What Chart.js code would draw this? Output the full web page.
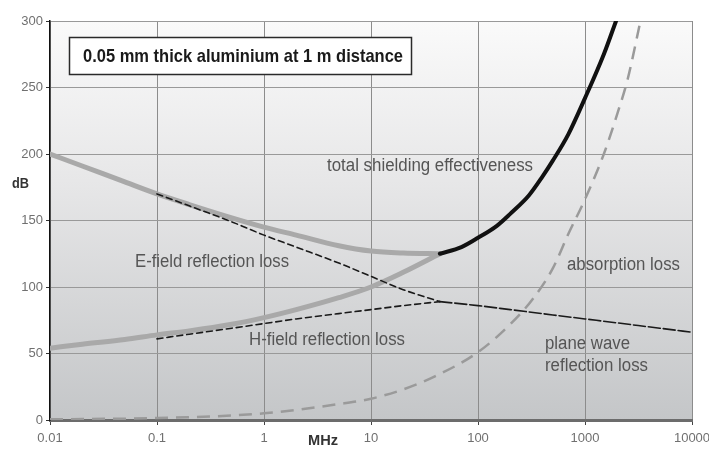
<!DOCTYPE html>
<html>
<head>
<meta charset="utf-8">
<script src="https://cdn.jsdelivr.net/npm/chart.js@4"></script>
<style>
html,body{margin:0;padding:0;background:#fff;}
#wrap{width:709px;height:453px;}
</style>
</head>
<body>
<div id="wrap"><canvas id="c" width="709" height="453"></canvas></div>
<script>
// ---- data ----
const xTickValues = [0.01, 0.1, 1, 10, 100, 1000, 10000];
const xTickLabels = ['0.01', '0.1', '1', '10', '100', '1000', '10000'];

const nearFreq = [0.01, 0.02, 0.05, 0.1, 0.2, 0.5, 1, 2, 5, 10, 20, 44];
const eTotalLoss = [200, 191, 179, 170, 162, 152, 145, 139, 131, 127, 125.5, 125];
const hTotalLoss = [54, 57, 60.5, 64, 67, 72, 77, 83, 92, 100, 111, 125];

const reflFreq = [0.1, 0.2, 0.5, 1, 2, 5, 10, 20, 44];
const eFieldLoss = [170, 161, 149, 139, 130, 118, 108, 98, 89];
const hFieldLoss = [61, 64.5, 69, 72.5, 76, 80, 83, 86, 89];

const planeFreq = [44, 100, 200, 500, 1000, 2000, 5000, 10000];
const planeLoss = [89, 86, 83, 79, 76, 73, 69, 66];

const absorbFreq = [0.01, 0.1, 1, 5, 10, 20, 40, 100, 200, 325, 500, 700, 1000, 1500, 2000, 2500, 3300];
const absorbLoss = [0.5, 1.5, 5, 12, 16, 23, 33, 51, 72, 91, 114, 140, 166, 200, 230, 256, 300];

const totalFreq = [44, 70, 100, 150, 200, 300, 400, 500, 700, 1000, 1500, 1950];
const totalLoss = [125, 130, 137, 146, 155, 169, 183, 195, 215, 242, 275, 300];

const titleText = '0.05 mm thick aluminium at 1 m distance';
const yTitle = 'dB';
const xTitle = 'MHz';
const curveLabels = [
  {text: 'total shielding effectiveness', x: 327, y: 166, w: 206},
  {text: 'E-field reflection loss', x: 135, y: 262, w: 154},
  {text: 'H-field reflection loss', x: 249, y: 340, w: 156},
  {text: 'absorption loss', x: 567, y: 265, w: 113},
  {text: 'plane wave', x: 545, y: 344, w: 85},
  {text: 'reflection loss', x: 545, y: 366, w: 103}
];

function pts(xs, ys){ return xs.map((x,i)=>({x:x, y:ys[i]})); }

function fitText(ctx, str, left, cy, width, font, color){
  ctx.save();
  ctx.font = font;
  const w = ctx.measureText(str).width;
  ctx.translate(left, cy);
  ctx.scale(width / w, 1);
  ctx.fillStyle = color;
  ctx.textBaseline = 'middle';
  ctx.textAlign = 'left';
  ctx.fillText(str, 0, 0);
  ctx.restore();
}

const bgPlugin = {
  id: 'bg',
  beforeDraw(chart){
    const {ctx, chartArea:a} = chart;
    const g = ctx.createLinearGradient(0, a.top, 0, a.bottom);
    g.addColorStop(0, '#fafafa');
    g.addColorStop(0.4, '#e7e7e8');
    g.addColorStop(1, '#c4c6c8');
    ctx.save();
    ctx.fillStyle = g;
    ctx.fillRect(a.left, a.top, a.right - a.left, a.bottom - a.top);
    ctx.restore();
  }
};

const textPlugin = {
  id: 'texts',
  afterDraw(chart){
    const ctx = chart.ctx;
    ctx.save();
    ctx.fillStyle = '#ffffff';
    ctx.fillRect(69, 37, 343, 38);
    ctx.strokeStyle = '#2a2a2a';
    ctx.lineWidth = 1.5;
    ctx.strokeRect(69.5, 37.5, 342, 37);
    ctx.restore();
    fitText(ctx, titleText, 83, 57, 320, 'bold 19px "Liberation Sans", Arial, sans-serif', '#1a1a1a');
    curveLabels.forEach(l => fitText(ctx, l.text, l.x, l.y, l.w, '18px "Liberation Sans", Arial, sans-serif', '#555555'));
    fitText(ctx, yTitle, 12, 184, 17, 'bold 14px "Liberation Sans", Arial, sans-serif', '#333333');
    fitText(ctx, xTitle, 308, 441, 30, 'bold 14px "Liberation Sans", Arial, sans-serif', '#333333');
  }
};

const common = {pointRadius: 0, borderCapStyle: 'round', fill: false, cubicInterpolationMode: 'monotone'};

new Chart(document.getElementById('c'), {
  type: 'line',
  data: {
    datasets: [
      Object.assign({label:'total shielding effectiveness', data: pts(totalFreq, totalLoss), borderColor:'#111111', borderWidth:4, order:0}, common),
      Object.assign({label:'E-field reflection loss', data: pts(reflFreq, eFieldLoss), borderColor:'#1a1a1a', borderWidth:1.6, borderDash:[6,4], order:1}, common),
      Object.assign({label:'H-field reflection loss', data: pts(reflFreq, hFieldLoss), borderColor:'#1a1a1a', borderWidth:1.6, borderDash:[6,4], order:1}, common),
      Object.assign({label:'plane wave reflection loss', data: pts(planeFreq, planeLoss), borderColor:'#1a1a1a', borderWidth:1.6, borderDash:[12,3], order:1}, common),
      Object.assign({label:'E-field total', data: pts(nearFreq, eTotalLoss), borderColor:'#a9a9a9', borderWidth:5, order:3}, common),
      Object.assign({label:'H-field total', data: pts(nearFreq, hTotalLoss), borderColor:'#a9a9a9', borderWidth:5, order:3}, common),
      Object.assign({label:'absorption loss', data: pts(absorbFreq, absorbLoss), borderColor:'#9a9a9a', borderWidth:2.5, borderDash:[13,8], order:2}, common, {borderCapStyle:'butt'})
    ]
  },
  options: {
    responsive: false,
    animation: false,
    layout: {padding: {left: 0, right: 17, top: 21, bottom: 0}},
    plugins: {legend: {display: false}, tooltip: {enabled: false}},
    scales: {
      x: {
        type: 'logarithmic',
        min: 0.01, max: 10000,
        afterBuildTicks(s){ s.ticks = xTickValues.map(v => ({value: v})); },
        afterFit(s){ s.height = 33; s.paddingLeft = 0; s.paddingRight = 0; },
        ticks: {
          autoSkip: false, maxRotation: 0, padding: 6,
          color: '#707070',
          font: {family: '"Liberation Sans", Arial, sans-serif', size: 13},
          callback(v){ const i = xTickValues.indexOf(v); return i >= 0 ? xTickLabels[i] : ''; }
        },
        grid: {color: '#8c8c8c', lineWidth: 1, tickColor: '#444', tickLength: 5},
        border: {color: '#6c6c6c', width: 3}
      },
      y: {
        min: 0, max: 300,
        afterFit(s){ s.width = 50; s.paddingTop = 0; s.paddingBottom = 0; },
        ticks: {
          stepSize: 50, padding: 3,
          color: '#707070',
          font: {family: '"Liberation Sans", Arial, sans-serif', size: 13}
        },
        grid: {color: '#999999', lineWidth: 1, tickColor: '#333', tickLength: 4},
        border: {color: '#111111', width: 1.5}
      }
    }
  },
  plugins: [bgPlugin, textPlugin]
});
</script>
</body>
</html>
